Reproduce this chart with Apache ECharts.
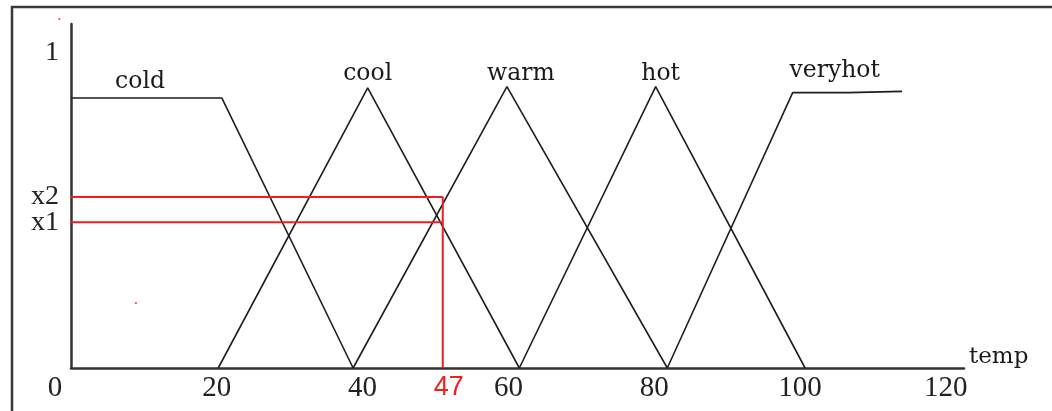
<!DOCTYPE html>
<html>
<head>
<meta charset="utf-8">
<script src="https://cdn.jsdelivr.net/npm/echarts@6/dist/echarts.min.js"></script>
<style>
html,body{margin:0;padding:0;background:#fff;}
#c{width:1052px;height:411px;}
</style>
</head>
<body>
<div id="c"></div>
<script>
// ---- data ----
const setNames = ['cold', 'cool', 'warm', 'hot', 'veryhot'];
const coldTemp = [0, 20.7, 38.7];
const coldMu = [0.857, 0.857, 0];
const coolTemp = [20.2, 40.7, 61.5];
const coolMu = [0, 0.889, 0];
const warmTemp = [38.7, 59.8, 81.8];
const warmMu = [0, 0.893, 0];
const hotTemp = [61.5, 80.2, 100.7];
const hotMu = [0, 0.893, 0];
const veryhotTemp = [81.8, 99.0, 106.6, 106.6, 114.0];
const veryhotMu = [0, 0.874, 0.874, 0.878, 0.878];

const probeTemp = 51.0;      // red vertical marker
const probeLabel = '47';
const x1Value = 0.463;
const x2Value = 0.543;

const xTickValues = [0, 20, 40, 60, 80, 100, 120];
const yTickValues = [1, x2Value];
const yTickLabels = ['1', 'x2'];
const yTick2Values = [x1Value];
const yTick2Labels = ['x1'];

const speckTemp = [-1.6, 8.9];
const speckMu = [1.108, 0.206];

// ---- chart ----
const zip = (xs, ys) => xs.map((x, i) => [x, ys[i]]);
const sets = [
  {name: setNames[0], d: zip(coldTemp, coldMu), at: 0, off: [69, 0]},
  {name: setNames[1], d: zip(coolTemp, coolMu), at: 1, off: [0, 2]},
  {name: setNames[2], d: zip(warmTemp, warmMu), at: 1, off: [14, 3]},
  {name: setNames[3], d: zip(hotTemp, hotMu), at: 1, off: [5, 3]},
  {name: setNames[4], d: zip(veryhotTemp, veryhotMu), at: 1, off: [42, -6]}
];
const lineColor = '#1e1e1e';
const red = '#f21d1d';
const serif = 'DejaVu Serif';

const series = sets.map(s => ({
  name: s.name,
  type: 'line',
  symbol: 'circle',
  symbolSize: 0,
  showSymbol: true,
  showAllSymbol: true,
  silent: true,
  itemStyle: {color: lineColor, opacity: 0},
  lineStyle: {color: lineColor, width: 1.6},
  data: s.d.map((p, i) => i === s.at ? {
    value: p,
    label: {
      show: true, position: 'top', distance: 4, offset: s.off,
      formatter: s.name, color: '#1a1a1a', fontFamily: serif, fontSize: 23.5, opacity: 1
    }
  } : p)
}));

series.push({
  type: 'line', symbol: 'none', silent: true,
  lineStyle: {color: red, width: 2},
  data: [[0, x2Value], [probeTemp, x2Value]]
});
series.push({
  type: 'line', symbol: 'none', silent: true,
  lineStyle: {color: red, width: 2},
  data: [[0, x1Value], [probeTemp, x1Value]]
});
series.push({
  type: 'line', symbol: 'none', silent: true,
  lineStyle: {color: red, width: 2},
  data: [[probeTemp, 0], [probeTemp, x2Value]]
});
series.push({
  type: 'scatter', symbol: 'rect', symbolSize: 2, silent: true, clip: false,
  itemStyle: {color: '#ff3030'},
  data: zip(speckTemp, speckMu)
});

const yLabelBase = {
  interval: 0,
  hideOverlap: false,
  margin: 12,
  fontFamily: 'Liberation Serif', fontSize: 28, color: '#222'
};

const chart = echarts.init(document.getElementById('c'), null, {renderer: 'canvas'});
chart.setOption({
  animation: false,
  backgroundColor: '#fff',
  grid: {left: 71, right: 88, top: 24, bottom: 43, containLabel: false, outerBoundsMode: 'none'},
  graphic: [{
    type: 'rect', silent: true, z: 100,
    shape: {x: 12, y: 7, width: 1100, height: 500},
    style: {fill: null, stroke: '#3a3a3a', lineWidth: 2.5}
  }],
  xAxis: {
    type: 'value', min: 0, max: 122.5,
    name: 'temp', nameLocation: 'end', nameGap: 5,
    nameTextStyle: {fontFamily: serif, fontSize: 23, color: '#1a1a1a', verticalAlign: 'bottom', padding: [0, 0, -1, 0]},
    axisLine: {show: true, onZero: false, lineStyle: {color: '#333', width: 2.5}},
    axisTick: {show: false},
    splitLine: {show: false},
    axisLabel: {
      customValues: xTickValues.concat([probeTemp]),
      interval: 0,
      hideOverlap: false,
      margin: 6,
      fontFamily: 'Liberation Serif', fontSize: 29, color: '#222',
      formatter: v => v === probeTemp ? '{r|' + probeLabel + '}' : (v === 0 ? '{z|0}' : String(v)),
      rich: {
        r: {color: red, fontFamily: 'Liberation Sans', fontSize: 27, padding: [0, 0, 0, 12]},
        z: {fontFamily: 'Liberation Serif', fontSize: 29, color: '#222', padding: [0, 32, 0, 0]}
      }
    }
  },
  yAxis: [{
    type: 'value', min: 0, max: 1.092, position: 'left',
    axisLine: {show: true, onZero: false, lineStyle: {color: '#333', width: 2.5}},
    axisTick: {show: false},
    splitLine: {show: false},
    axisLabel: Object.assign({}, yLabelBase, {
      customValues: yTickValues,
      formatter: v => yTickLabels[yTickValues.indexOf(v)]
    })
  }, {
    type: 'value', min: 0, max: 1.092, position: 'left', offset: 0,
    axisLine: {show: false},
    axisTick: {show: false},
    splitLine: {show: false},
    axisLabel: Object.assign({}, yLabelBase, {
      customValues: yTick2Values,
      formatter: v => yTick2Labels[yTick2Values.indexOf(v)]
    })
  }],
  series: series
});
</script>
</body>
</html>
